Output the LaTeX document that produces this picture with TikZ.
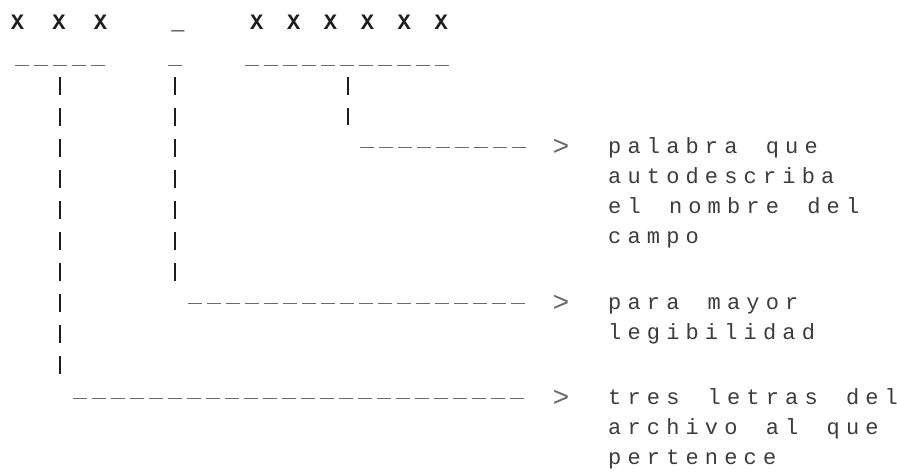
\documentclass[tikz,border=0pt]{standalone}
\usepackage{fontspec}
\setmonofont{Liberation Mono}[LetterSpace=28, WordSpace=1.46]
\usetikzlibrary{positioning, calc}
\definecolor{cink}{HTML}{1E1E1E}
\definecolor{cdots}{HTML}{3C3C3C}
\definecolor{crule}{HTML}{6A6A6A}
\tikzset{
  every picture/.style={font=\ttfamily\fontsize{22}{30}\selectfont},
  head/.style={text=cink, inner sep=0pt, anchor=base, font=\ttfamily\bfseries\fontsize{22}{30}\selectfont},
  note/.style={text=cdots, inner sep=0pt, anchor=base west, align=left},
  tip/.style={text=crule, inner sep=0pt, anchor=center, font=\ttfamily\fontsize{28}{30}\selectfont},
  tick/.style={draw=cink, line width=1.4pt, dash pattern=on 18pt off 13pt},
  rule/.style={draw=crule, line width=1pt, dash pattern=on 14pt off 5pt},
}

\begin{document}
\begin{tikzpicture}[x=1pt, y=-1pt]
  \useasboundingbox (0,0) rectangle (897,474);
  % field name pattern
  \node[head] (pre) at (59,29) {X X X};
  \node[head] (sep) at (178,29) {\_};
  \node[head, execute at begin node={\spaceskip=23.7pt\relax}] (name) at (349,29) {X X X X X X};
  % underlines
  \draw[rule] (15,65) -- (110,65);
  \draw[rule] (168,65) -- (183,65);
  \draw[rule] (245,65) -- (453,65);
  \coordinate (preU) at (60,77);
  \coordinate (sepU) at (175,77);
  \coordinate (nameU) at (348,77);
  % explanations (placed by the baseline of their last line)
  \node[note] (nameTxt) at (608,243) {palabra que\\autodescriba\\el nombre del\\campo};
  \node[note] (sepTxt) at (608,339) {para mayor\\legibilidad};
  \node[note] (preTxt) at (608,464) {tres letras del\\archivo al que\\pertenece};
  \node[tip] (nameGt) at (561,147) {>};
  \node[tip] (sepGt) at (561,303) {>};
  \node[tip] (preGt) at (561,398) {>};
  % leaders
  \draw[tick] (nameU) -- ++(0,48) coordinate (nameD);
  \draw[tick] (sepU) -- ++(0,205) coordinate (sepD);
  \draw[tick] (preU) -- ++(0,300) coordinate (preD);
  \draw[rule] (nameD) ++(12,22) -- ([xshift=-33pt]nameGt.center);
  \draw[rule] (sepD) ++(13,21) -- ([xshift=-33pt]sepGt.center);
  \draw[rule] (preD) ++(13,21) -- ([xshift=-33pt]preGt.center);
\end{tikzpicture}
\end{document}
